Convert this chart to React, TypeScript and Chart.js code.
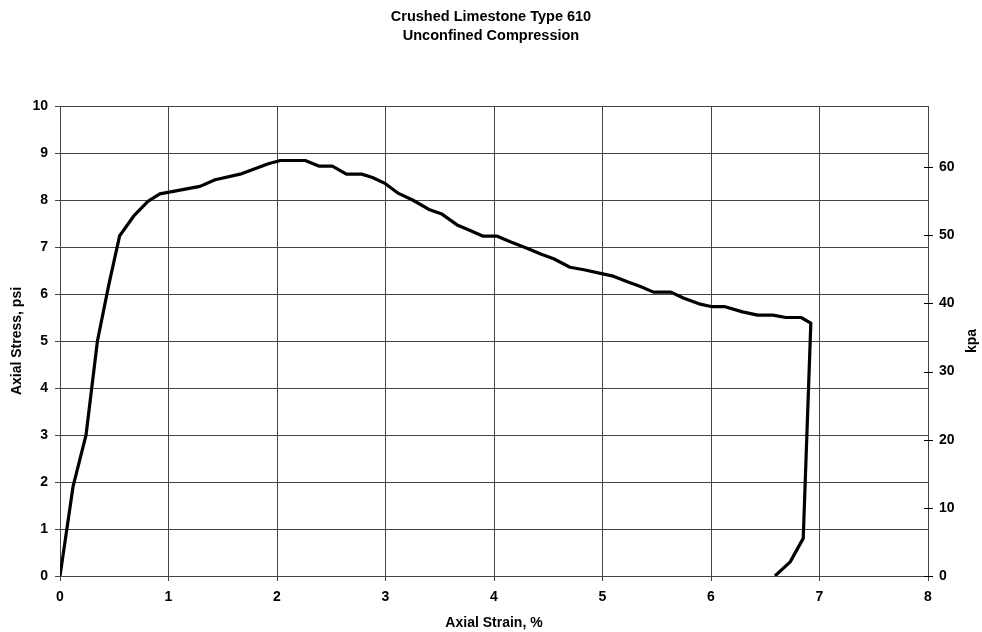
import React, { useEffect, useRef } from "react";
import { Chart, registerables } from "chart.js";

Chart.register(...registerables);

const titleLines = ["Crushed Limestone Type 610", "Unconfined Compression"];
const xTitle = "Axial Strain, %";
const yTitle = "Axial Stress, psi";
const y2Title = "kpa";

const strain = [
  0, 0.12, 0.24, 0.345, 0.45, 0.55, 0.68, 0.81, 0.92, 1.29, 1.43, 1.66, 1.92,
  2.03, 2.26, 2.39, 2.51, 2.64, 2.78, 2.88, 2.99, 3.12, 3.25, 3.4, 3.52, 3.66,
  3.78, 3.9, 4.03, 4.15, 4.31, 4.43, 4.55, 4.7, 4.84, 4.98, 5.1, 5.23, 5.35,
  5.47, 5.63, 5.75, 5.89, 6.01, 6.13, 6.29, 6.43, 6.57, 6.69, 6.83, 6.92, 6.85,
  6.73, 6.59,
];
const stress = [
  0, 1.9, 3.0, 5.0, 6.2, 7.24, 7.66, 7.97, 8.13, 8.29, 8.43, 8.55, 8.77, 8.84,
  8.84, 8.72, 8.72, 8.55, 8.55, 8.48, 8.36, 8.14, 8.0, 7.8, 7.7, 7.47, 7.35,
  7.23, 7.23, 7.11, 6.97, 6.85, 6.75, 6.57, 6.51, 6.44, 6.38, 6.26, 6.16, 6.04,
  6.04, 5.91, 5.79, 5.73, 5.73, 5.62, 5.55, 5.55, 5.5, 5.5, 5.38, 0.8, 0.3, 0,
];
const kpaTicks = [0, 10, 20, 30, 40, 50, 60];
const PSI_TO_KPA = 6.895;

const FONT = '"Liberation Sans", Arial, sans-serif';
const GRID = "#444";

export default function App() {
  const ref = useRef<HTMLCanvasElement | null>(null);

  useEffect(() => {
    if (!ref.current) return;
    const overlay = {
      id: "overlay",
      afterDraw(chart: any) {
        const ctx = chart.ctx;
        const area = chart.chartArea;
        ctx.save();
        ctx.fillStyle = "#000";
        ctx.font = `bold 14.5px ${FONT}`;
        ctx.textAlign = "center";
        ctx.textBaseline = "middle";
        ctx.fillText(titleLines[0], 491, 17);
        ctx.fillText(titleLines[1], 491, 36);
        // right axis title
        ctx.font = `bold 14px ${FONT}`;
        ctx.translate(972, (area.top + area.bottom) / 2);
        ctx.rotate(-Math.PI / 2);
        ctx.fillText(y2Title, 0, 0);
        ctx.restore();
        // right axis tick marks crossing the axis
        const s = chart.scales.y2;
        ctx.save();
        ctx.strokeStyle = "#000";
        ctx.lineWidth = 1;
        kpaTicks.forEach((v) => {
          const py = Math.round(s.getPixelForValue(v)) + 0.5;
          ctx.beginPath();
          ctx.moveTo(area.right - 4, py);
          ctx.lineTo(area.right + 5, py);
          ctx.stroke();
        });
        ctx.restore();
      },
    };

    const chart = new Chart(ref.current, {
      type: "line",
      data: {
        datasets: [
          {
            data: strain.map((x, i) => ({ x, y: stress[i] })),
            borderColor: "#000",
            borderWidth: 3.2,
            pointRadius: 0,
            tension: 0,
            borderJoinStyle: "round",
            fill: false,
          },
        ],
      },
      options: {
        animation: false,
        responsive: false,
        layout: { padding: { top: 106, left: 0, right: 0, bottom: 0 } },
        plugins: {
          legend: { display: false },
          title: { display: false },
          tooltip: { enabled: false },
        },
        scales: {
          x: {
            type: "linear",
            min: 0,
            max: 8,
            ticks: {
              stepSize: 1,
              color: "#000",
              padding: 8,
              font: { family: FONT, size: 14, weight: "bold" },
            },
            grid: { color: GRID, lineWidth: 1, tickLength: 5 },
            border: { color: GRID },
            title: {
              display: true,
              text: xTitle,
              color: "#000",
              padding: { top: 7, bottom: 0 },
              font: { family: FONT, size: 14, weight: "bold" },
            },
            afterFit: (axis: any) => {
              axis.height = 56;
            },
          },
          y: {
            position: "left",
            min: 0,
            max: 10,
            ticks: {
              stepSize: 1,
              color: "#000",
              padding: 7,
              font: { family: FONT, size: 14, weight: "bold" },
            },
            grid: { color: GRID, lineWidth: 1, tickLength: 5 },
            border: { color: GRID },
            title: {
              display: true,
              text: yTitle,
              color: "#000",
              padding: { top: 9, bottom: 0 },
              font: { family: FONT, size: 14, weight: "bold" },
            },
            afterFit: (axis: any) => {
              axis.width = 60;
            },
          },
          y2: {
            position: "right",
            min: 0,
            max: 10 * PSI_TO_KPA,
            afterBuildTicks: (axis: any) => {
              axis.ticks = kpaTicks.map((v) => ({ value: v }));
            },
            ticks: {
              color: "#000",
              padding: 11,
              font: { family: FONT, size: 14, weight: "bold" },
            },
            grid: { drawOnChartArea: false, drawTicks: false },
            border: { color: GRID },
            afterFit: (axis: any) => {
              axis.width = 54;
            },
          },
        },
      } as any,
      plugins: [overlay],
    });
    return () => chart.destroy();
  }, []);

  return (
    <div style={{ position: "absolute", left: 0, top: 0, width: 982, height: 632, background: "#fff" }}>
      <canvas ref={ref} width={982} height={632} style={{ display: "block" }} />
    </div>
  );
}
